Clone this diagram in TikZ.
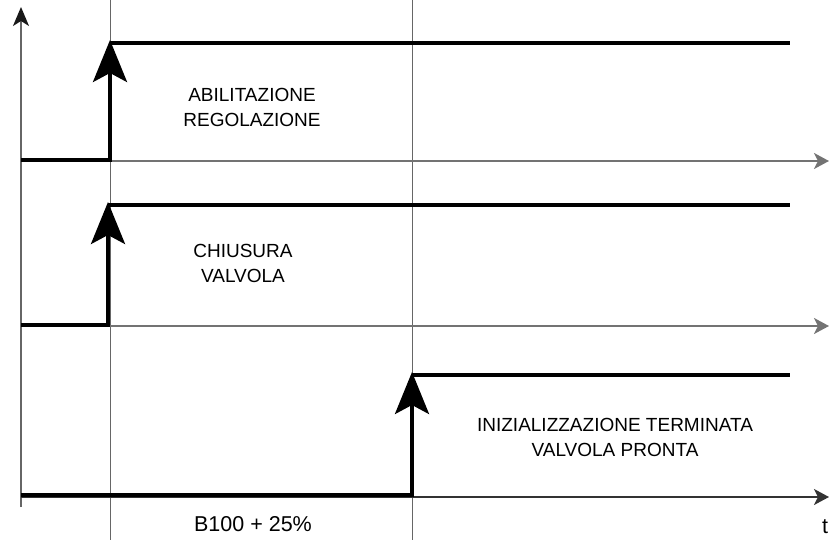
\documentclass[tikz,border=0pt]{standalone}
\usepackage{fontspec}
\setmainfont{Liberation Sans}
\usetikzlibrary{arrows.meta}
\tikzset{
  sig/.style={line width=3.6pt, black},
  rise/.style={line width=3.6pt, black, -{Stealth[length=42pt,width=34pt,inset=9pt]}},
  axis/.style={line width=1.6pt, black!55, -{Stealth[length=15pt,width=16pt,inset=4pt]}},
  taxis/.style={line width=1.6pt, black!80, -{Stealth[length=15pt,width=16pt,inset=4pt]}},
  vaxis/.style={line width=1.6pt, black!60, -{Stealth[length=19pt,width=16pt,inset=5pt,color=black!90]}},
  guide/.style={line width=0.6pt, black!60},
  lbl/.style={font=\fontsize{19}{25}\selectfont, align=center, inner sep=0pt},
  blbl/.style={font=\fontsize{21.5}{25}\selectfont, align=center, inner sep=0pt}
}
\begin{document}
\begin{tikzpicture}[x=1pt,y=-1pt]
\useasboundingbox (0,0) rectangle (829,540);
% named points
\coordinate (O) at (21,507);
\coordinate (Ytop) at (21,7);
\coordinate (g1t) at (110,0); \coordinate (g1b) at (110,540);
\coordinate (g2t) at (412,0); \coordinate (g2b) at (412,540);
\coordinate (a1s) at (21,161); \coordinate (a1e) at (829,161);
\coordinate (a2s) at (21,326); \coordinate (a2e) at (829,326);
\coordinate (a3s) at (21,497); \coordinate (a3e) at (829,497);
% guides
\draw[guide] (g1t) -- (g1b);
\draw[guide] (g2t) -- (g2b);
% axes
\draw[vaxis] (O) -- (Ytop);
\draw[axis] (a1s) -- (a1e);
\draw[axis] (a2s) -- (a2e);
\draw[taxis] (a3s) -- (a3e);
% signal 1
\coordinate (s1a) at (21,160); \coordinate (s1b) at (110,160); \coordinate (s1c) at (110,40);
\coordinate (h1a) at (110,43); \coordinate (h1b) at (790,43);
\draw[rise] (s1a) -- (s1b) -- (s1c);
\draw[sig] (h1a) -- (h1b);
% signal 2
\coordinate (s2a) at (21,325); \coordinate (s2b) at (108,325); \coordinate (s2c) at (108,202);
\coordinate (h2a) at (108,205); \coordinate (h2b) at (790,205);
\draw[rise] (s2a) -- (s2b) -- (s2c);
\draw[sig] (h2a) -- (h2b);
% signal 3
\coordinate (s3a) at (21,495); \coordinate (s3b) at (412,495); \coordinate (s3c) at (412,372);
\coordinate (h3a) at (412,375); \coordinate (h3b) at (790,375);
\draw[rise] (s3a) -- (s3b) -- (s3c);
\draw[sig] (h3a) -- (h3b);
% labels
\node[lbl] (t1) at (252,107) {ABILITAZIONE\\REGOLAZIONE};
\node[lbl] (t2) at (243,263) {CHIUSURA\\VALVOLA};
\node[lbl] (t3) at (615,437) {INIZIALIZZAZIONE TERMINATA\\VALVOLA PRONTA};
\node[blbl] (t4) at (253,524) {B100 + 25\%};
\node[blbl] (t5) at (825,527) {t};
\end{tikzpicture}
\end{document}
